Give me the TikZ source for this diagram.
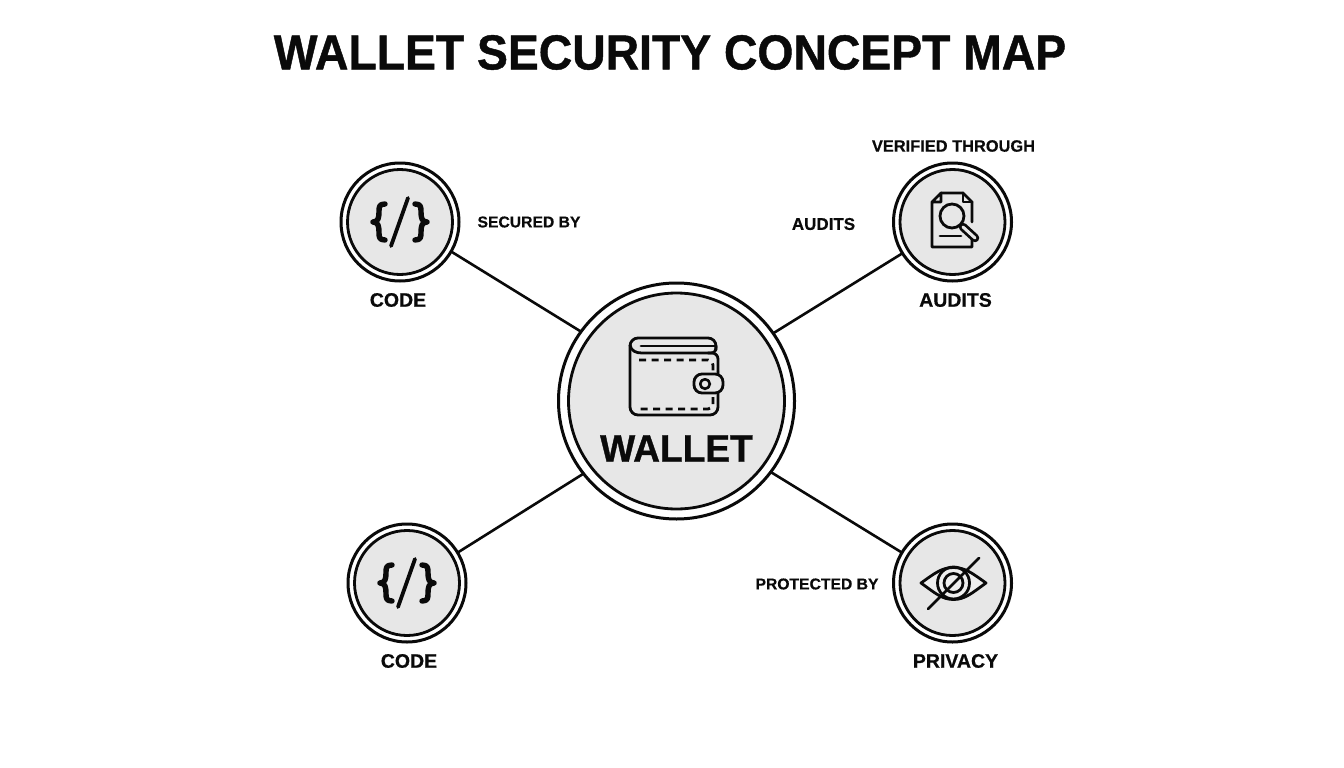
\documentclass[tikz,border=0pt]{standalone}
\usepackage{fontspec}
\setmainfont{Liberation Sans}
\newfontfamily\heavyfont[FakeBold=0.5]{Liberation Sans Bold}
\newfontfamily\titlefont[FakeBold=0.9,FakeStretch=0.945]{Liberation Sans Bold}
\newfontfamily\wallfont[FakeBold=0.9,FakeStretch=0.965]{Liberation Sans Bold}
\definecolor{disc}{HTML}{E7E7E7}
\definecolor{ink}{HTML}{0A0A0A}
\tikzset{
  x=1pt,y=-1pt,
  link/.style={draw=ink,line width=2.6pt},
  outerdisc/.style={circle,draw=ink,fill=white,line width=3pt,inner sep=0pt,outer sep=0pt},
  innerdisc/.style={circle,draw=ink,fill=disc,line width=2.8pt,inner sep=0pt,outer sep=0pt},
  titletext/.style={font=\titlefont\fontsize{49}{52}\selectfont,text=ink},
  nodetext/.style={font=\heavyfont\fontsize{19.5}{22}\selectfont,text=ink},
  edgetext/.style={font=\heavyfont\fontsize{16.4}{19}\selectfont,text=ink},
  icon/.style={draw=ink,line width=2.8pt,line join=round,line cap=round},
  codeicon/.pic={
    \draw[icon,line width=5.4pt] (-15,-18) .. controls (-21,-18) and (-21,-15) .. (-21,-10) .. controls (-21,-4) and (-22,0) .. (-27,0) .. controls (-22,0) and (-21,4) .. (-21,10) .. controls (-21,15) and (-21,18) .. (-15,18);
    \draw[icon,line width=5.4pt] (15,-18) .. controls (21,-18) and (21,-15) .. (21,-10) .. controls (21,-4) and (22,0) .. (27,0) .. controls (22,0) and (21,4) .. (21,10) .. controls (21,15) and (21,18) .. (15,18);
    \draw[icon,line width=3.8pt] (8,-24) -- (-9,24);
  }
}
\begin{document}
\begin{tikzpicture}
\useasboundingbox (0,0) rectangle (1344,768);
\fill[white] (0,0) rectangle (1344,768);

\node[titletext] (title) at (670,52.5) {WALLET SECURITY CONCEPT MAP};

% discs
\node[outerdisc,minimum size=236pt] (wallet) at (676.5,401) {};
\node[innerdisc,minimum size=216pt] (walletin) at (wallet.center) {};
\node[outerdisc,minimum size=118pt] (codea) at (400,222) {};
\node[innerdisc,minimum size=105pt] (codeain) at (codea.center) {};
\node[outerdisc,minimum size=118pt] (audits) at (952.5,222) {};
\node[innerdisc,minimum size=105pt] (auditsin) at (audits.center) {};
\node[outerdisc,minimum size=118pt] (codeb) at (407,583) {};
\node[innerdisc,minimum size=105pt] (codebin) at (codeb.center) {};
\node[outerdisc,minimum size=118pt] (privacy) at (952.5,583) {};
\node[innerdisc,minimum size=105pt] (privacyin) at (privacy.center) {};

% connectors
\draw[link] (codea.-30) -- (wallet.144);
\draw[link] (audits.212) -- (wallet.35);
\draw[link] (codeb.31) -- (wallet.218.5);
\draw[link] (privacy.149) -- (wallet.-37);

% wallet icon
\draw[icon,rounded corners=8pt] (716,350) -- (716,338) -- (630,338) -- (630,415) -- (718,415) -- (718,372);
\draw[icon,rounded corners=6pt] (718,372) -- (718,353) -- (708,353);
\draw[icon] (716,346) .. controls (716,350) and (715,353) .. (711,353) -- (642,353) .. controls (636,353) and (631,351) .. (630,345);
\draw[icon] (641,346) -- (715,346);
\draw[icon,line cap=butt,dash pattern=on 7pt off 5.5pt,rounded corners=5pt] (639,360) -- (713,360) -- (713,372);
\draw[icon,line cap=butt,dash pattern=on 7pt off 5.5pt,rounded corners=5pt] (713,397) -- (713,409) -- (639,409);
\draw[icon,fill=disc,rounded corners=8pt] (694,374) rectangle (723,393);
\draw[icon,line width=2.6pt,fill=disc] (705,384) circle[radius=4.8];
\node[font=\wallfont\fontsize{38.5}{44}\selectfont,text=ink] (wallettext) at (676.5,448.5) {WALLET};

% code icons
\pic at (codea.center) {codeicon};
\pic at (codeb.center) {codeicon};

% document with magnifier
\draw[icon] (941,193) -- (963,193) -- (972,202) -- (972,222);
\draw[icon] (972,238) -- (972,247) -- (932,247) -- (932,202) -- (941,193) -- (941,202) -- (932,202);
\draw[icon] (963,193) -- (963,202) -- (972,202);
\draw[icon] (940,236) -- (961,236);
\draw[icon,line width=8.5pt] (963,227) -- (975,238);
\draw[line width=3pt,disc,line cap=round] (963,227) -- (975,238);
\draw[icon,fill=disc] (952,216) circle[radius=12];

% eye
\draw[icon,fill=disc!70!white] (921,583) .. controls (935,573) and (942,567.5) .. (953.5,567.5) .. controls (965,567.5) and (972,573) .. (986,583) .. controls (972,593) and (965,599.5) .. (953.5,599.5) .. controls (942,599.5) and (935,593) .. (921,583) -- cycle;
\draw[icon] (953.5,583) circle[radius=16];
\draw[icon] (953.5,583) circle[radius=9.5];
\draw[icon] (928,609) -- (979,558);

% labels
\node[nodetext] (lcodea) at (398,300) {CODE};
\node[nodetext] (laudits) at (955.5,300) {AUDITS};
\node[nodetext] (lcodeb) at (409,661) {CODE};
\node[nodetext] (lprivacy) at (955.5,661) {PRIVACY};
\node[edgetext,font=\heavyfont\fontsize{15.7}{19}\selectfont] (esecured) at (529,222) {SECURED BY};
\node[edgetext] (everified) at (953.5,146) {VERIFIED THROUGH};
\node[edgetext,font=\heavyfont\fontsize{17}{19}\selectfont] (eaudits) at (823.5,224) {AUDITS};
\node[edgetext,font=\heavyfont\fontsize{15.7}{19}\selectfont] (eprotected) at (817,584) {PROTECTED BY};
\end{tikzpicture}
\end{document}
